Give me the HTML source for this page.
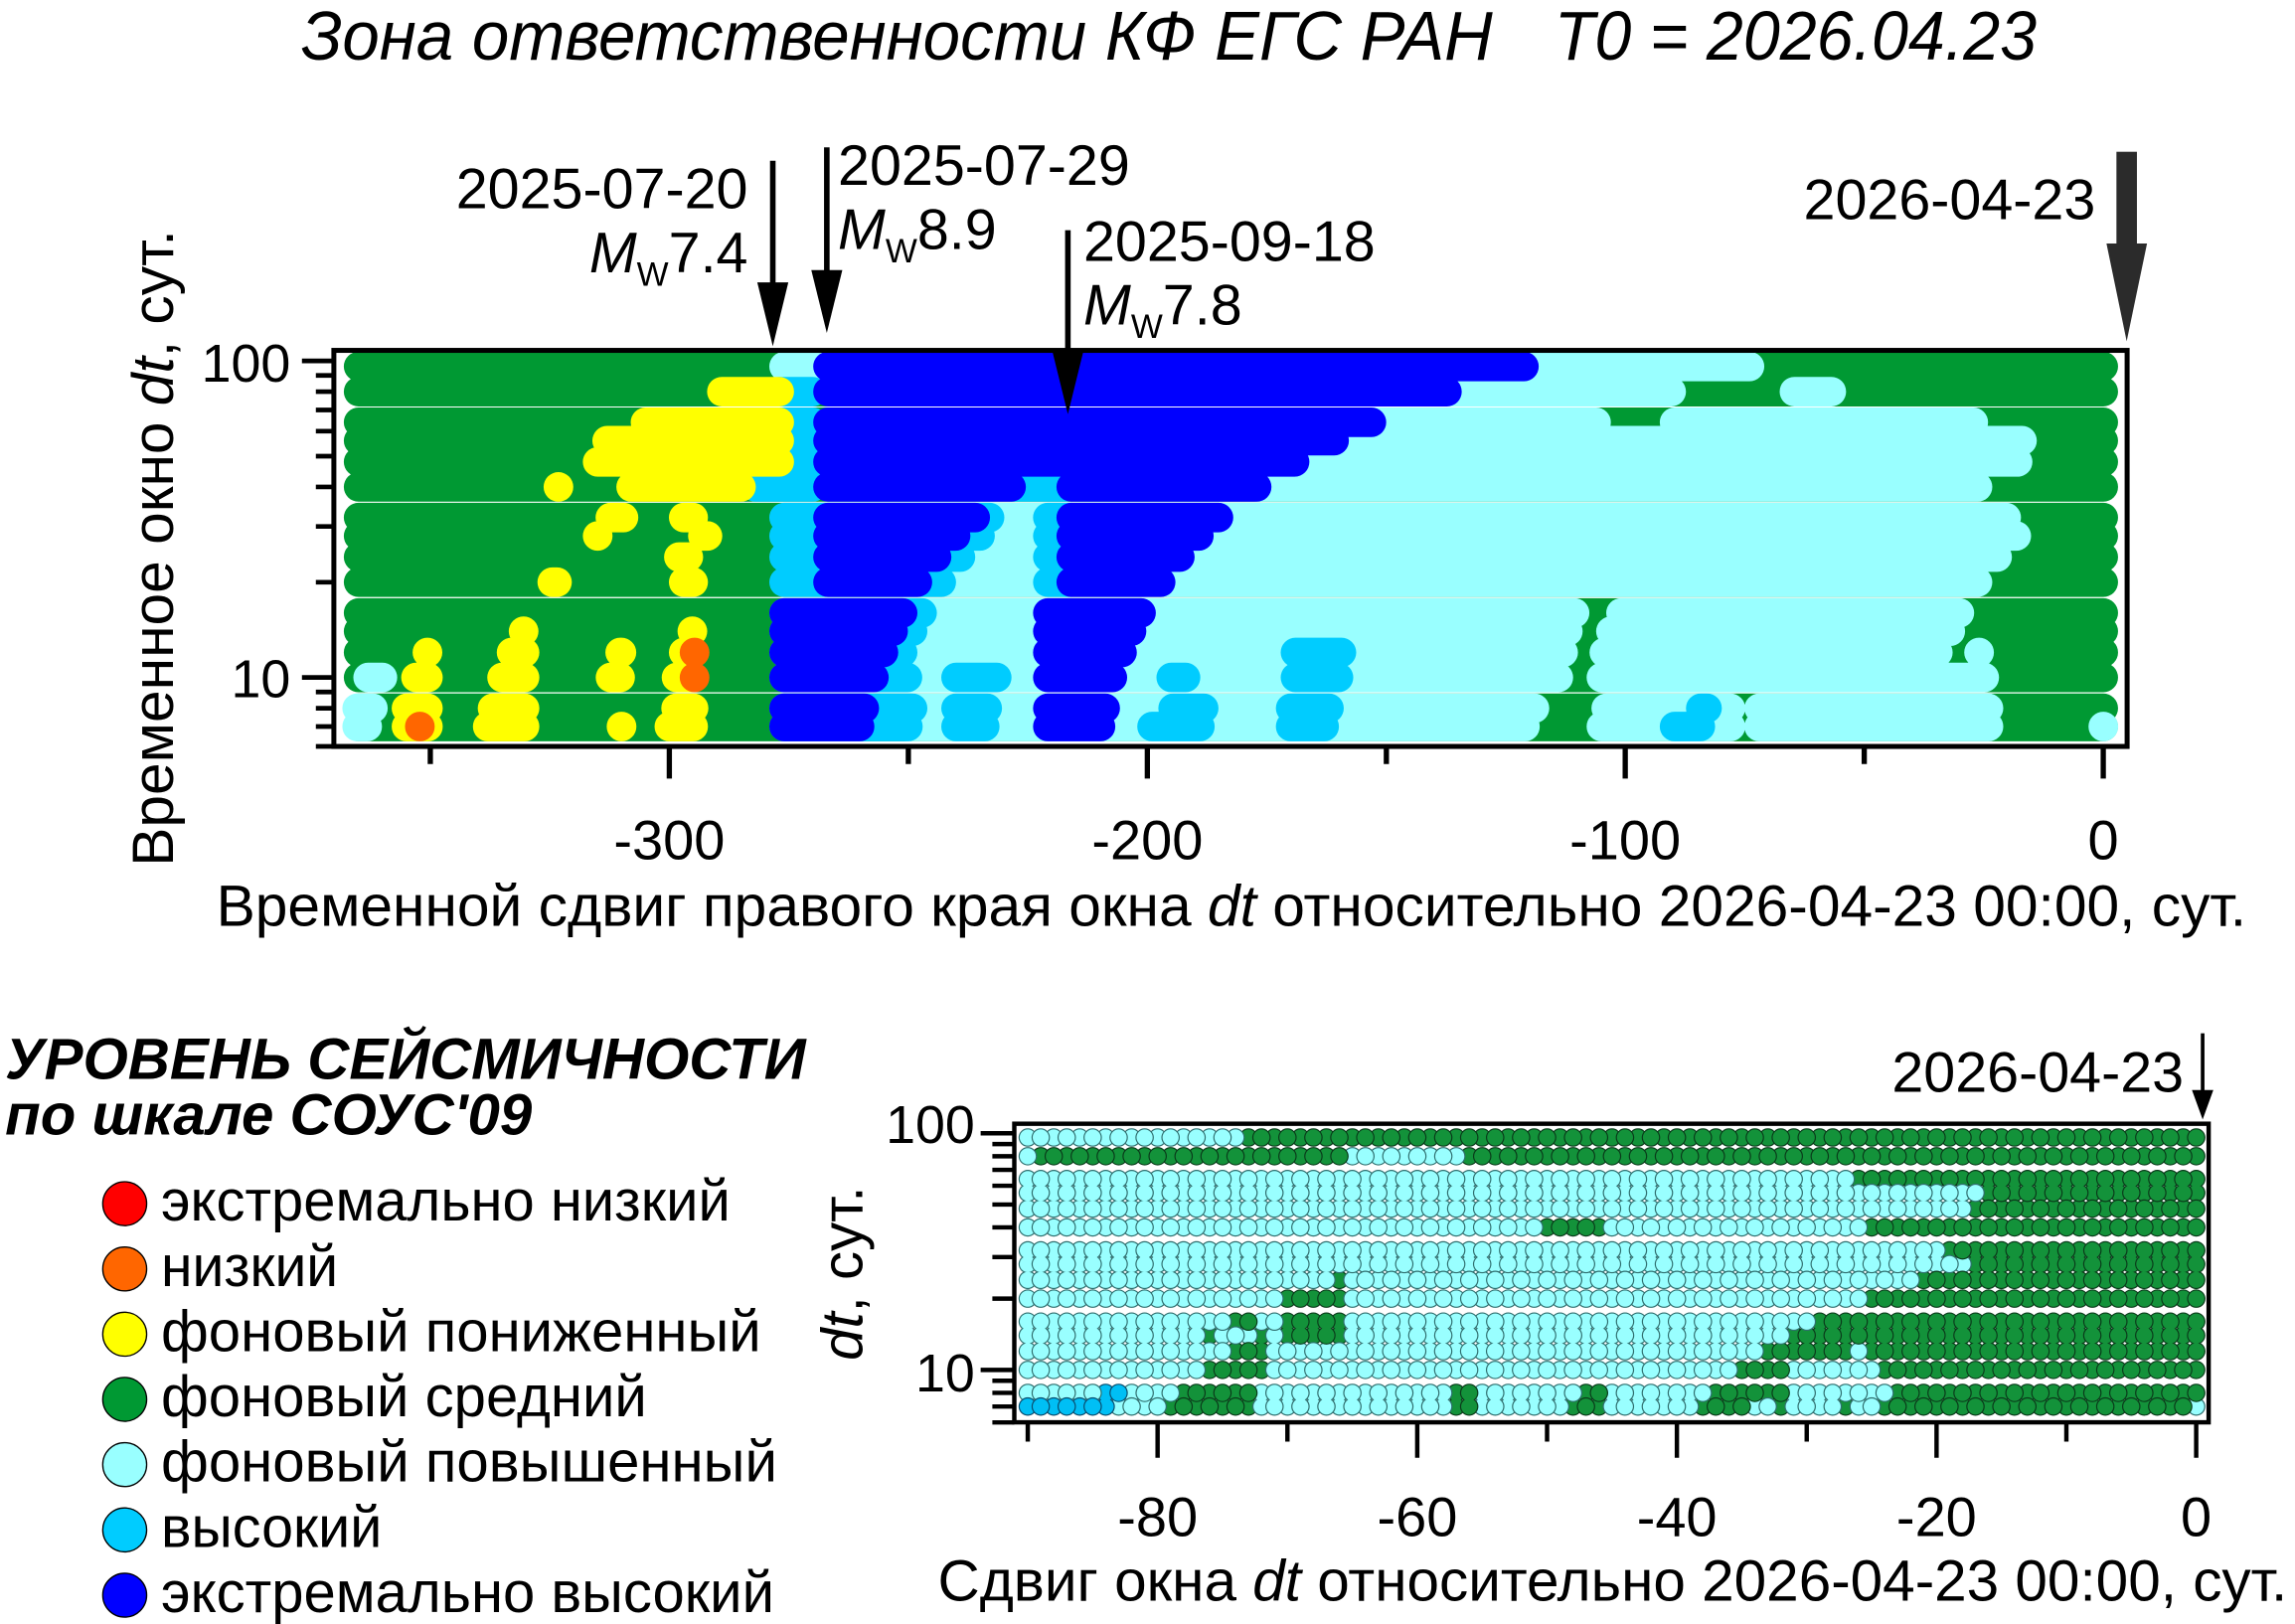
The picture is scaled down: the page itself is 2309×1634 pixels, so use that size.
<!DOCTYPE html>
<html>
<head>
<meta charset="utf-8">
<style>
html,body{margin:0;padding:0;background:#fff;width:2309px;height:1634px;overflow:hidden}
svg{display:block}
text{font-family:"Liberation Sans",Arial,sans-serif;fill:#000}
</style>
</head>
<body>
<svg width="2309" height="1634" viewBox="0 0 1568 1109.6" preserveAspectRatio="none">
<rect x="0" y="0" width="1568" height="1109.6" fill="#fff"/>

<!-- Title -->
<text x="205.8" y="40.7" font-size="47" font-style="italic" textLength="814" lengthAdjust="spacingAndGlyphs">Зона ответственности КФ ЕГС РАН</text>
<text x="1062" y="40.7" font-size="47" font-style="italic" textLength="329.5" lengthAdjust="spacingAndGlyphs">T0 = 2026.04.23</text>

<!-- ===== TOP PLOT DOTS ===== -->
<g fill="none" stroke-linecap="round" stroke-width="20.2">
<path stroke="#009933" d="M245 250.4H1437M245 267.6H1437M245 288.5H1437M245 301.1H1437M245 315.6H1437M245 332.7H1437M245 353.6H1437M245 366.2H1437M245 380.6H1437M245 397.8H1437M245 418.8H1437M245 431.3H1437M245 445.8H1437M245 462.9H1437M245 483.9H1437M245 496.4H1437"/>
<path stroke="#99ffff" d="M535.7 250.4H1195.3
M988.6 267.6H1141.8M1226 267.6H1251.2
M937 288.5H1090.5M1144.1 288.5H1348.2
M911.5 301.1H1381.5
M884.5 315.6H1378.5
M858.6 332.7H1351.1
M620.6 353.6H1370.7
M620.6 366.2H1377.6
M620.6 380.6H1364.5
M620.6 397.8H1351.1
M630 418.8H1075.8M1107.5 418.8H1338.7
M623.5 431.3H1071.2M1100.6 431.3H1332.5
M616.7 445.8H1068M1096.1 445.8H1324M1352.1 445.8h0.1
M251.5 462.9H261.3M620 462.9H1064.7M1094.1 462.9H1355.7
M244 483.9H254.8M623.5 483.9H1048.4M1097.4 483.9H1182.3M1201.9 483.9H1358.6
M244 496.4H250.9M620.3 496.4H1041.9M1094.1 496.4H1182.3M1201.9 496.4H1358.6M1437 496.4h0.1"/>
<path stroke="#00ccff" d="M532.4 267.6H555.3
M532.4 288.5H555.3
M532.4 301.1H555.3
M532.4 315.6H555.3
M516.1 332.7H555.3M692.4 332.7H728.3
M535.7 353.6H676.1M715.9 353.6H731.6
M535.7 366.2H669.6M715.9 366.2H731.6
M535.7 380.6H656.2M715.9 380.6H731.6
M535.7 397.8H643.1M715.9 397.8H731.6
M535.7 418.8H630
M535.7 431.3H623.5
M535.7 445.8H616.7M885.1 445.8H916.5
M535.7 462.9H620M653.2 462.9H681M800.2 462.9H810M885.1 462.9H914.5
M535.7 483.9H623.5M653.2 483.9H674.5M801.5 483.9H822.4M881.8 483.9H908M1162 483.9H1166.3
M535.7 496.4H620.3M653.2 496.4H672.8M787.1 496.4H819.8M881.8 496.4H904.7M1144.1 496.4H1161.7"/>
<path stroke="#ffff00" d="M493.2 267.6H532.4
M441 288.5H532.4
M414.8 301.1H532.4
M408.3 315.6H532.4
M381.5 332.7h0.1M431.2 332.7H506.3
M417 353.6H426M467.1 353.6H473.6
M408.3 366.2h0.1M480.2 366.2H483.4
M463.8 380.6H470.3
M377.3 397.8H380.6M467.1 397.8H473.6
M357.7 431.3h0.1M473 431.3h0.1
M292 445.8h0.1M349.5 445.8H358.4M423.7 445.8H424.6M467.1 445.8H473.6
M284.2 462.9H292.4M343 462.9H358.4M417.1 462.9H423.7M462.2 462.9H473.6
M277.7 483.9H292.4M336.5 483.9H358.4M461.9 483.9H473.9
M277.7 496.4H292.4M333.2 496.4H358.4M424.6 496.4h0.1M457.3 496.4H473.6"/>
<path stroke="#0000ff" d="M565.7 250.4H1041.2
M565.7 267.6H988.6
M565.7 288.5H937
M565.7 301.1H911.5
M565.7 315.6H884.5
M565.7 332.7H690.8M731.9 332.7H858.6
M565.7 353.6H666.3M731.9 353.6H832.5
M565.7 366.2H652.9M731.9 366.2H819.1
M565.7 380.6H639.9M731.9 380.6H806.1
M565.7 397.8H626.8M731.9 397.8H793
M535.7 418.8H616.7M715.9 418.8H779.6
M535.7 431.3H610.2M715.9 431.3H773.1
M535.7 445.8H603.6M715.9 445.8H766.6
M535.7 462.9H597.1M715.9 462.9H760
M535.7 483.9H590.5M715.9 483.9H755.1
M535.7 496.4H587.3M715.9 496.4H751.9"/>
<path stroke="#ff6600" d="M474.5 445.8h0.1M474.5 462.9h0.1M286.8 496.4h0.1"/>
</g>

<!-- top frame & ticks -->
<g stroke="#000" fill="none">
<rect x="228.1" y="239.4" width="1225.2" height="270.6" stroke-width="3.4"/>
<path stroke-width="3.2" d="M206.3 246.6H228M206.3 462.9H228
M215.8 256.5H228M215.8 267.6H228M215.8 280.1H228M215.8 294.6H228M215.8 311.7H228M215.8 332.7H228M215.8 359.7H228M215.8 397.8H228M215.8 472.8H228M215.8 483.9H228M215.8 496.4H228M215.8 510H228"/>
<path stroke-width="3.6" d="M457.3 510V532M783.9 510V532M1110.4 510V532M1437 510V532
M294 510V522M620.6 510V522M947.2 510V522M1273.7 510V522"/>
</g>

<!-- top arrows -->
<g stroke="#000" stroke-width="3.8">
<line x1="528" y1="109.8" x2="528" y2="195"/>
<line x1="564.9" y1="100.7" x2="564.9" y2="186"/>
<line x1="729.6" y1="157.3" x2="729.6" y2="242"/>
</g>
<polygon points="517.4,192.9 538.6,192.9 528,236.6" fill="#000"/>
<polygon points="554.3,184.5 575.5,184.5 564.9,227.5" fill="#000"/>
<polygon points="719,240 740.2,240 729.6,283" fill="#000"/>
<rect x="1446" y="103.7" width="14" height="64" fill="#2b2b2b"/>
<polygon points="1439.2,166.4 1466.9,166.4 1453,233.2" fill="#2b2b2b"/>

<!-- arrow labels -->
<g font-size="39">
<text x="511" y="142.2" text-anchor="end">2025-07-20</text>
<text x="511" y="186.1" text-anchor="end"><tspan font-style="italic">M</tspan><tspan font-size="23" dy="9">W</tspan><tspan dy="-9">7.4</tspan></text>
<text x="572.5" y="126.3">2025-07-29</text>
<text x="572.5" y="170.2"><tspan font-style="italic">M</tspan><tspan font-size="23" dy="9">W</tspan><tspan dy="-9">8.9</tspan></text>
<text x="740.2" y="178.4">2025-09-18</text>
<text x="740.2" y="221.8"><tspan font-style="italic">M</tspan><tspan font-size="23" dy="9">W</tspan><tspan dy="-9">7.8</tspan></text>
<text x="1431.7" y="149.9" text-anchor="end">2026-04-23</text>
</g>

<!-- top axis labels -->
<g font-size="36.5" text-anchor="end">
<text x="198.5" y="260.9">100</text>
<text x="198.5" y="476.3">10</text>
</g>
<g font-size="38" text-anchor="middle">
<text x="457.3" y="587.2">-300</text>
<text x="783.9" y="587.2">-200</text>
<text x="1110.4" y="587.2">-100</text>
<text x="1437" y="587.2">0</text>
</g>
<text transform="translate(118,374.5) rotate(-90)" text-anchor="middle" font-size="39.5" textLength="435" lengthAdjust="spacingAndGlyphs">Временное окно <tspan font-style="italic">dt</tspan>, сут.</text>
<text x="147.8" y="632.7" font-size="39.5" textLength="1387" lengthAdjust="spacingAndGlyphs">Временной сдвиг правого края окна <tspan font-style="italic">dt</tspan> относительно 2026-04-23 00:00, сут.</text>

<!-- ===== LOWER PLOT ===== -->
<defs>
<path id="lg" d="M853 777.2H1501M711.1 790H915.6M1003.8 790H1501M1269.9 805.6H1501M1358.6 815H1501M1349.7 825.8H1501M1057 838.6H1093M1278.8 838.6H1501M1332 854.3H1501M1349.7 863.7H1501M915.1 874.5H915.6M1314.2 874.5H1501M879.6 887.3H915.6M1278.8 887.3H1501M844.1 903H853.5M879.6 903H915.6M1243.3 903H1501M826.4 912.4H826.9M861.9 912.4H862.4M879.6 912.4H915.6M1225.5 912.4H1501M844.1 923.2H862.4M1207.8 923.2H1261.5M1278.8 923.2H1501M826.4 936H862.4M1190.1 936H1217.2M1287.6 936H1501M808.6 951.7H853.5M994.9 951.7H1004.3M1083.6 951.7H1093M1172.3 951.7H1217.2M1296.5 951.7H1501M799.8 961H853.5M994.9 961H1004.3M1074.7 961H1093M1163.4 961H1190.6M1216.7 961H1217.2M1261 961H1261.5M1287.6 961H1492.1"/>
<path id="ll" d="M702.2 777.2H844.6M702.2 790H702.7M924 790H995.4M702.2 805.6H1261.5M702.2 815H1350.2M702.2 825.8H1341.3M702.2 838.6H1048.6M1101.3 838.6H1270.4M702.2 854.3H1323.6M702.2 863.7H1341.3M702.2 874.5H906.7M924 874.5H1305.9M702.2 887.3H871.2M924 887.3H1270.4M702.2 903H835.8M861.9 903H871.2M924 903H1234.9M702.2 912.4H818M835.3 912.4H853.5M870.7 912.4H871.2M924 912.4H1217.2M702.2 923.2H835.8M870.7 923.2H1199.4M1269.9 923.2H1270.4M702.2 936H818M870.7 936H1181.7M1225.5 936H1279.3M702.2 951.7H747.1M773.2 951.7H800.3M861.9 951.7H986.5M1012.7 951.7H1075.2M1101.3 951.7H1163.9M1225.5 951.7H1288.1M764.3 961H791.4M861.9 961H986.5M1012.7 961H1066.4M1101.3 961H1155.1M1198.9 961H1208.3M1225.5 961H1252.6M1269.9 961H1279.3M1500.5 961H1501"/>
<path id="lcy" d="M755.4 951.7H764.8M702.2 961H755.9"/>
</defs>
<g fill="none" stroke-linecap="round" stroke-dasharray="0 17.74">
<g stroke-dashoffset="0">
<use href="#lg" stroke="#0a3a1a" stroke-width="12.6"/>
<use href="#lg" stroke="#13923a" stroke-width="11"/>
<use href="#ll" stroke="#2f6e6e" stroke-width="12.6"/>
<use href="#ll" stroke="#99ffff" stroke-width="11"/>
<use href="#lcy" stroke="#0a4d6e" stroke-width="12.6"/>
<use href="#lcy" stroke="#00bff5" stroke-width="11"/>
</g>
<g stroke-dashoffset="8.87">
<use href="#lg" stroke="#0a3a1a" stroke-width="12.6"/>
<use href="#lg" stroke="#13923a" stroke-width="11"/>
<use href="#ll" stroke="#2f6e6e" stroke-width="12.6"/>
<use href="#ll" stroke="#99ffff" stroke-width="11"/>
<use href="#lcy" stroke="#0a4d6e" stroke-width="12.6"/>
<use href="#lcy" stroke="#00bff5" stroke-width="11"/>
</g>
</g>

<!-- lower frame & ticks -->
<g stroke="#000" fill="none">
<rect x="693" y="767.8" width="816" height="204" stroke-width="3"/>
<path stroke-width="3" d="M670 774.3H693M670 936H693
M678 781.7H693M678 790H693M678 799.3H693M678 810.2H693M678 823H693M678 838.6H693M678 858.9H693M678 887.3H693M678 943.4H693M678 951.7H693M678 961H693M678 971.9H693"/>
<path stroke-width="3" d="M790.9 971.8V996M968.3 971.8V996M1145.7 971.8V996M1323.1 971.8V996M1500.5 971.8V996
M702.2 971.8V985M879.6 971.8V985M1057 971.8V985M1234.4 971.8V985M1411.8 971.8V985"/>
</g>
<line x1="1504.9" y1="706" x2="1504.9" y2="747" stroke="#000" stroke-width="2.5"/>
<polygon points="1497.6,744.8 1512.2,744.8 1504.9,764.9" fill="#000"/>
<text x="1492" y="746.1" font-size="39" text-anchor="end">2026-04-23</text>

<g font-size="36.5" text-anchor="end">
<text x="666" y="780.9">100</text>
<text x="666" y="950.7">10</text>
</g>
<g font-size="38" text-anchor="middle">
<text x="790.9" y="1049.6">-80</text>
<text x="968.3" y="1049.6">-60</text>
<text x="1145.7" y="1049.6">-40</text>
<text x="1323.1" y="1049.6">-20</text>
<text x="1500.5" y="1049.6">0</text>
</g>
<text transform="translate(589,870) rotate(-90)" text-anchor="middle" font-size="39.5"><tspan font-style="italic">dt</tspan>, сут.</text>
<text x="640.7" y="1093.7" font-size="39.5" textLength="922" lengthAdjust="spacingAndGlyphs">Сдвиг окна <tspan font-style="italic">dt</tspan> относительно 2026-04-23 00:00, сут.</text>

<!-- ===== LEGEND ===== -->
<text x="3.5" y="737.2" font-size="39.6" font-weight="bold" font-style="italic" textLength="547" lengthAdjust="spacingAndGlyphs">УРОВЕНЬ СЕЙСМИЧНОСТИ</text>
<text x="3.5" y="775.1" font-size="39.6" font-weight="bold" font-style="italic" textLength="360" lengthAdjust="spacingAndGlyphs">по шкале СОУС'09</text>
<g stroke="#000" stroke-width="0.9">
<circle cx="85.2" cy="822.4" r="15" fill="#ff0000"/>
<circle cx="85.2" cy="867" r="15" fill="#ff6600"/>
<circle cx="85.2" cy="911.6" r="15" fill="#ffff00"/>
<circle cx="85.2" cy="956.1" r="15" fill="#009933"/>
<circle cx="85.2" cy="1000.7" r="15" fill="#99ffff"/>
<circle cx="85.2" cy="1045.3" r="15" fill="#00ccff"/>
<circle cx="85.2" cy="1089.9" r="15" fill="#0000ff"/>
</g>
<g font-size="39.5">
<text x="110" y="834" textLength="389" lengthAdjust="spacingAndGlyphs">экстремально низкий</text>
<text x="110" y="878.6" textLength="121" lengthAdjust="spacingAndGlyphs">низкий</text>
<text x="110" y="923.2" textLength="410" lengthAdjust="spacingAndGlyphs">фоновый пониженный</text>
<text x="110" y="967.7" textLength="332" lengthAdjust="spacingAndGlyphs">фоновый средний</text>
<text x="110" y="1012.3" textLength="421" lengthAdjust="spacingAndGlyphs">фоновый повышенный</text>
<text x="110" y="1056.9" textLength="151" lengthAdjust="spacingAndGlyphs">высокий</text>
<text x="110" y="1101.5" textLength="419" lengthAdjust="spacingAndGlyphs">экстремально высокий</text>
</g>
</svg>
</body>
</html>
